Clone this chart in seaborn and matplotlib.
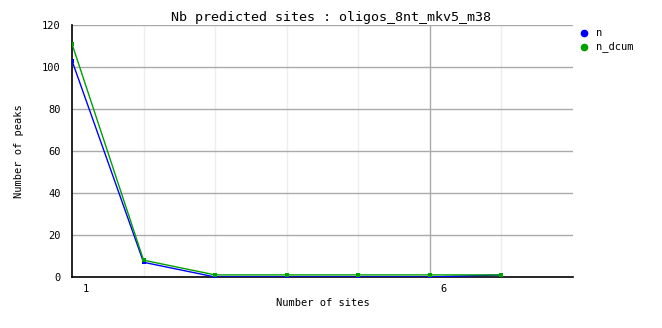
import matplotlib
matplotlib.use("Agg")
import matplotlib.pyplot as plt
import matplotlib.transforms as mtransforms
import seaborn as sns
import pandas as pd

sites = [1, 2, 3, 4, 5, 6, 7]
n = [103, 7, 0, 0, 0, 0, 1]
n_dcum = [111, 8, 1, 1, 1, 1, 1]
series_names = ["n", "n_dcum"]
colors = {"n": "#0000ff", "n_dcum": "#00a000"}
xtick_pos = [1, 6]
xtick_labels = ["1", "6"]
yticks = [0, 20, 40, 60, 80, 100, 120]

df = pd.DataFrame({
    "sites": sites * 2,
    "value": n + n_dcum,
    "series": ["n"] * len(n) + ["n_dcum"] * len(n_dcum),
})

sns.set_style("white")
plt.rcParams["font.family"] = ["DejaVu Sans Mono", "DejaVu Sans"]
plt.rcParams["text.color"] = "black"
plt.rcParams["axes.labelcolor"] = "black"
plt.rcParams["xtick.color"] = "black"
plt.rcParams["ytick.color"] = "black"

fig = plt.figure(figsize=(6.62, 3.28), dpi=100)
ax = fig.add_axes([72 / 662, 1 - 277 / 328, (573 - 72) / 662, (277 - 25) / 328])

# grid
for x in sites:
    if x == 6:
        ax.axvline(x, color="#aaaaaa", lw=1, zorder=0)
    elif x != 1:
        ax.axvline(x, color="#eeeeee", lw=1, zorder=0)
for y in yticks[1:]:
    ax.axhline(y, color="#aaaaaa", lw=1, zorder=0)

sns.lineplot(data=df, x="sites", y="value", hue="series", hue_order=series_names,
             palette=colors, marker="s", markersize=3, markeredgewidth=0,
             linewidth=1, ax=ax, legend=False, zorder=3)

ax.set_xlim(1, 8)
ax.set_ylim(0, 120)
ax.set_xticks([])
# x tick labels, offset to the right of the tick position as in the reference
offset = mtransforms.ScaledTranslation(14 / 100, -12 / 100, fig.dpi_scale_trans)
blend = mtransforms.blended_transform_factory(ax.transData, ax.transAxes)
for pos, lab in zip(xtick_pos, xtick_labels):
    ax.text(pos, 0, lab, transform=blend + offset, ha="center", va="center",
            fontsize=7.5, color="black")
ax.set_yticks(yticks)
ax.set_yticklabels([str(v) for v in yticks], fontsize=7.5)
ax.tick_params(axis="both", length=0, pad=8)

for s in ["top", "right"]:
    ax.spines[s].set_visible(False)
for s in ["left", "bottom"]:
    ax.spines[s].set_color("black")
    ax.spines[s].set_linewidth(1.2)

ax.set_xlabel("Number of sites", fontsize=7.5, labelpad=15)
ax.set_ylabel("Number of peaks", fontsize=7.5, labelpad=13)

fig.text(331 / 662, 1 - 18 / 328, "Nb predicted sites : oligos_8nt_mkv5_m38",
         ha="center", va="center", fontsize=9.6)

# legend
for i, name in enumerate(series_names):
    yy = 1 - (33 + 14 * i) / 328
    fig.lines.append(plt.Line2D([584 / 662], [yy], transform=fig.transFigure,
                                marker="o", markersize=4.5, color=colors[name],
                                linestyle="none"))
    fig.text(596 / 662, yy, name, ha="left", va="center", fontsize=7.5)

fig.savefig("out.png", dpi=100)
